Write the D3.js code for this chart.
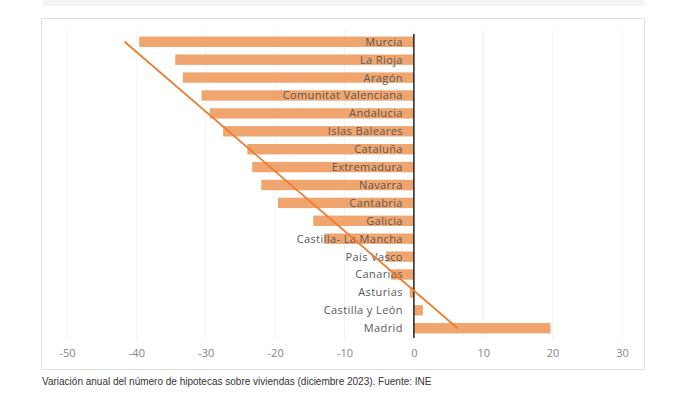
<!DOCTYPE html>
<html>
  <head>
    <meta charset="utf-8">
    <script src="https://d3js.org/d3.v7.min.js"></script>
    <style>
      body {
        margin: 0;
        background: white;
        font-family: "Open Sans", sans-serif;
      }
    </style>
  </head>
  <body>
    <svg id="chart" width="687" height="397"></svg>
    <script>
      var regions = ['Murcia','La Rioja','Aragón','Comunitat Valenciana','Andalucia','Islas Baleares',
        'Cataluña','Extremadura','Navarra','Cantabria','Galicia','Castilla- La Mancha','País Vasco',
        'Canarias','Asturias','Castilla y León','Madrid'];
      var values = [-39.6, -34.4, -33.3, -30.6, -29.4, -27.5, -24.0, -23.3, -22.0, -19.6, -14.5,
        -12.9, -4.0, -3.3, -0.6, 1.3, 19.7];
      var ticks = [-50, -40, -30, -20, -10, 0, 10, 20, 30];
      // linear trendline, value at first and last row
      var trend = [-41.7, 6.3];
      var caption = 'Variación anual del número de hipotecas sobre viviendas (diciembre 2023). Fuente: INE';

      var svg = d3.select('#chart');

      // grey strip at top + chart frame
      svg.append('rect').attr('x', 42).attr('y', 0).attr('width', 603).attr('height', 6)
        .attr('rx', 3).attr('fill', '#f4f4f4');
      svg.append('rect').attr('x', 41.5).attr('y', 18.5).attr('width', 603).attr('height', 351)
        .attr('fill', 'white').attr('stroke', '#e2e2e2');

      var x = d3.scaleLinear().domain([-50, 30]).range([67, 622]);
      var y = d3.scaleBand().domain(regions).range([33, 337]).paddingInner(0.42).paddingOuter(0.2);

      // faint gridlines
      svg.append('g').selectAll('line').data(ticks).enter().append('line')
        .attr('x1', function(d) { return x(d); }).attr('x2', function(d) { return x(d); })
        .attr('y1', 30).attr('y2', 340)
        .attr('stroke', '#f3f3f3');

      svg.append('g').selectAll('rect').data(values).enter().append('rect')
        .attr('x', function(d) { return x(Math.min(0, d)); })
        .attr('y', function(d, i) { return y(regions[i]); })
        .attr('width', function(d) { return Math.abs(x(d) - x(0)); })
        .attr('height', y.bandwidth())
        .attr('fill', '#f1a56e');

      svg.append('g').selectAll('text').data(regions).enter().append('text')
        .attr('x', x(0) - 11)
        .attr('y', function(d) { return y(d) + y.bandwidth() / 2; })
        .attr('dy', '0.36em')
        .attr('text-anchor', 'end')
        .attr('font-size', 11)
        .attr('letter-spacing', 0.4)
        .attr('fill', '#595959')
        .text(function(d) { return d; });

      // zero line
      svg.append('line').attr('x1', x(0)).attr('x2', x(0)).attr('y1', 34).attr('y2', 338)
        .attr('stroke', '#222').attr('stroke-width', 1.5);

      // trendline
      var first = regions[0], last = regions[regions.length - 1];
      svg.append('line')
        .attr('x1', x(trend[0])).attr('y1', y(first) + y.bandwidth() / 2)
        .attr('x2', x(trend[1])).attr('y2', y(last) + y.bandwidth() / 2)
        .attr('stroke', '#ec7c30').attr('stroke-width', 1.8);

      var axis = d3.axisBottom(x).tickValues(ticks).tickSize(0).tickPadding(0)
        .tickFormat(function(d) { return String(d); });
      var gx = svg.append('g').attr('transform', 'translate(0,349)').call(axis);
      gx.select('.domain').remove();
      gx.selectAll('text').attr('font-family', '"Open Sans", sans-serif').attr('font-size', 11)
        .attr('fill', '#858585');

      svg.append('text').attr('x', 42).attr('y', 385)
        .attr('font-family', '"Liberation Sans", Arial, sans-serif')
        .attr('font-size', 10).attr('fill', '#333')
        .text(caption);
    </script>
  </body>
</html>
